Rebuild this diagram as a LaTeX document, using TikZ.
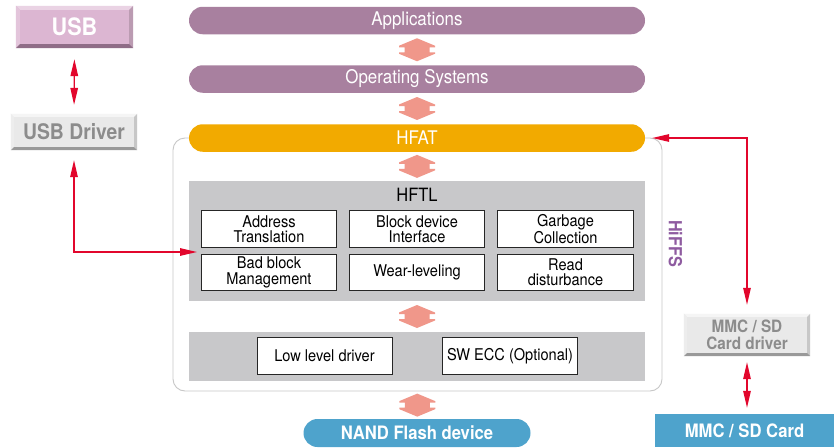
\documentclass[tikz,border=0pt]{standalone}
\usepackage{fontspec}
\setmainfont{TeX Gyre Heros}[FakeStretch=0.9]
\usetikzlibrary{arrows.meta,calc}
\definecolor{pill}{HTML}{A8809F}
\definecolor{hfat}{HTML}{F2AA00}
\definecolor{graybox}{HTML}{C8C8CA}
\definecolor{bluebox}{HTML}{4EA3CC}
\definecolor{salmon}{HTML}{F0978A}
\definecolor{redline}{HTML}{E2062C}
\definecolor{drvtext}{HTML}{8C8C8C}
\definecolor{hiffs}{HTML}{8E5BA0}
\definecolor{usbfill}{HTML}{DCB6D2}
\definecolor{drvfill}{HTML}{E9E9E9}
\newcommand\bevelbox[6]{%
  \fill[#3] (#1.north west) -- (#1.north east) -- ($(#1.north east)+(-#2,#2)$) -- ($(#1.north west)+(#2,#2)$) -- cycle;
  \fill[#4] (#1.north west) -- ($(#1.north west)+(#2,#2)$) -- ($(#1.south west)+(#2,-#2)$) -- (#1.south west) -- cycle;
  \fill[#5] (#1.north east) -- ($(#1.north east)+(-#2,#2)$) -- ($(#1.south east)+(-#2,-#2)$) -- (#1.south east) -- cycle;
  \fill[#6] (#1.south west) -- (#1.south east) -- ($(#1.south east)+(-#2,-#2)$) -- ($(#1.south west)+(#2,-#2)$) -- cycle;
}
\begin{document}
\begin{tikzpicture}[x=1pt,y=-1pt,
  pillbox/.style={fill=pill,minimum width=456pt,minimum height=27.5pt,rounded corners=13.75pt,text=white,inner sep=0pt,font=\fontsize{18.8}{20}\selectfont},
  layerbox/.style={fill=graybox,minimum width=456pt,inner sep=0pt},
  funcbox/.style={draw=black!85,line width=1pt,fill=white,minimum width=135.5pt,minimum height=36.5pt,inner sep=0pt,align=center,font=\fontsize{16.2}{15.2}\selectfont},
  drvbox/.style={fill=drvfill,inner sep=0pt,text=drvtext,align=center},
  redarr/.style={draw=redline,line width=1.3pt,{Triangle[length=17pt,width=7.5pt]}-{Triangle[length=17pt,width=7.5pt]}},
  fatarr/.pic={\fill[salmon] (0,-11.5) -- (18,-4) -- (18,-2.5) -- (12.5,-2.5) -- (12.5,2.5) -- (18,2.5) -- (18,4) -- (0,11.5) -- (-18,4) -- (-18,2.5) -- (-12.5,2.5) -- (-12.5,-2.5) -- (-18,-2.5) -- (-18,-4) -- cycle;}
]
\useasboundingbox (0,0) rectangle (834,447);
\fill[white] (0,0) rectangle (834,447);

% outer HiFFS frame
\node[draw=black!22,line width=0.9pt,rounded corners=12pt,minimum width=489pt,minimum height=253pt,inner sep=0pt] (frame) at (417.5,264.5) {};
\node[text=hiffs,rotate=-90,font=\bfseries\fontsize{18}{20}\selectfont,inner sep=0pt] (hiffslbl) at (675.5,243.5) {HiFFS};

% stack
\node[pillbox] (app) at (417,20.5) {Applications};
\node[pillbox] (os) at (417,79) {Operating Systems};
\node[pillbox,fill=hfat] (hfat) at (417,138) {HFAT};

\node[layerbox,minimum height=120pt] (hftl) at (417,241) {};
\node[font=\fontsize{18.3}{20}\selectfont,inner sep=0pt] (hftllbl) at (417,195) {HFTL};
\node[funcbox] (addr) at (269,229) {Address\\Translation};
\node[funcbox] (blk) at (417,229) {Block device\\Interface};
\node[funcbox] (gc) at (565.5,229) {Garbage\\Collection};
\node[funcbox] (bbm) at (269,272.3) {Bad block\\Management};
\node[funcbox] (wl) at (417,272.3) {Wear-leveling};
\node[funcbox] (rd) at (565.5,272.3) {Read\\disturbance};

\node[layerbox,minimum height=49pt] (low) at (417,356.5) {};
\node[funcbox,minimum width=135pt] (lld) at (324.5,356) {Low level driver};
\node[funcbox,minimum width=135pt] (ecc) at (510,356) {SW ECC (Optional)};

\node[fill=bluebox,minimum width=227pt,minimum height=28pt,rounded corners=14pt,text=white,inner sep=0pt,font=\bfseries\fontsize{18.5}{20}\selectfont] (nand) at (417,433) {NAND Flash device};

% fat arrows
\pic at ($(app.south)!0.5!(os.north)$) {fatarr};
\pic at ($(os.south)!0.5!(hfat.north)$) {fatarr};
\pic at ($(hfat.south)!0.5!(hftl.north)$) {fatarr};
\pic at ($(hftl.south)!0.5!(low.north)$) {fatarr};
\pic at ($(frame.south)!0.5!(nand.north)$) {fatarr};

% USB side
\node[fill=usbfill,minimum width=117pt,minimum height=42pt,inner sep=0pt] (usb) at (74.5,27) {};
\bevelbox{usb}{4}{usbfill!60!white}{usbfill!80!white}{usbfill!85!black}{pill!85!black}
\node[text=white,font=\bfseries\fontsize{24}{26}\selectfont,inner sep=0pt] (usblbl) at (usb.center) {USB};

\node[drvbox,minimum width=126pt,minimum height=36pt] (usbdrv) at (74,132) {};
\bevelbox{usbdrv}{3}{white!96!black}{white!93!black}{white!78!black}{white!60!black}
\node[text=drvtext,font=\bfseries\fontsize{21.5}{23}\selectfont,inner sep=0pt] (usbdrvlbl) at (usbdrv.center) {USB Driver};

% MMC side
\node[drvbox,minimum width=126pt,minimum height=42pt] (mmcdrv) at (747,335) {};
\bevelbox{mmcdrv}{3}{white!96!black}{white!93!black}{white!78!black}{white!60!black}
\node[text=drvtext,align=center,font=\bfseries\fontsize{17}{16.7}\selectfont,inner sep=0pt] (mmcdrvlbl) at (mmcdrv.center) {MMC / SD\\Card driver};

\node[fill=bluebox,minimum width=179pt,minimum height=33pt,inner sep=0pt,text=white,font=\bfseries\fontsize{18.5}{20}\selectfont] (mmc) at (744.5,430.5) {MMC / SD Card};

% red connectors
\coordinate (ltip) at (197,252);
\draw[redarr,shorten <=11pt,shorten >=9pt] (usb.south) -- (usbdrv.north);
\draw[redarr,shorten <=10pt] (usbdrv.south) |- (ltip);
\draw[redarr,shorten <=9pt,shorten >=7pt] (mmcdrv.north) |- (hfat.east);
\draw[redarr,shorten <=6pt,shorten >=6pt] (mmcdrv.south) -- (mmcdrv.south |- mmc.north);
\end{tikzpicture}
\end{document}
